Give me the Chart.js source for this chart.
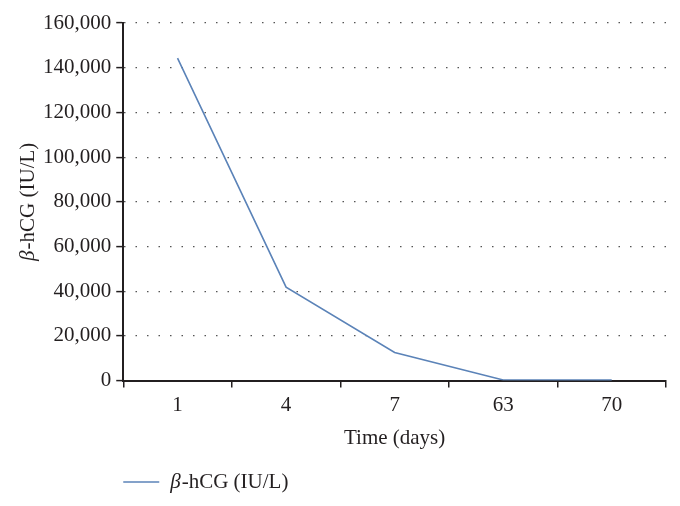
<!DOCTYPE html>
<html>
<head>
<meta charset="utf-8">
<script src="https://cdn.jsdelivr.net/npm/chart.js@4"></script>
<style>
  html, body { margin: 0; padding: 0; background: #fff; }
  #wrap { width: 680px; height: 506px; }
</style>
</head>
<body>
<div id="wrap"><canvas id="linechart"></canvas></div>
<script>
const days = ['1', '4', '7', '63', '70'];
const hcg = [144300, 41800, 12600, 300, 200];
const yTicks = [0, 20000, 40000, 60000, 80000, 100000, 120000, 140000, 160000];
const seriesName = 'β-hCG (IU/L)';

const serif = "'Liberation Serif', 'DejaVu Serif', serif";
const ink = '#231f20';
Chart.defaults.font.family = serif;
Chart.defaults.color = ink;

// draws "β" in italic followed by the rest in upright text
function mixedText(c, text, x, y, size) {
  const first = text.charAt(0), rest = text.slice(1);
  c.font = 'italic ' + size + 'px ' + serif;
  const w1 = c.measureText(first).width;
  c.fillText(first, x, y);
  c.font = size + 'px ' + serif;
  c.fillText(rest, x + w1 + 1, y);
  return w1 + 1 + c.measureText(rest).width;
}

function textWidth(c, text, size) {
  c.font = 'italic ' + size + 'px ' + serif;
  const w1 = c.measureText(text.charAt(0)).width;
  c.font = size + 'px ' + serif;
  return w1 + 1 + c.measureText(text.slice(1)).width;
}

const labelsPlugin = {
  id: 'labelsPlugin',
  afterDraw(chart) {
    const c = chart.ctx;
    const area = chart.chartArea;
    const ds = chart.data.datasets[0];
    c.save();
    c.fillStyle = ink;
    c.textBaseline = 'middle';

    // y axis title
    const size = 21;
    const w = textWidth(c, ds.label, size);
    c.save();
    c.translate(28, (area.top + area.bottom) / 2);
    c.rotate(-Math.PI / 2);
    mixedText(c, ds.label, -w / 2, 0, size);
    c.restore();

    // legend
    const ly = 482;
    c.strokeStyle = ds.borderColor;
    c.lineWidth = ds.borderWidth;
    c.beginPath();
    c.moveTo(area.left, ly);
    c.lineTo(area.left + 36, ly);
    c.stroke();
    mixedText(c, ds.label, area.left + 47, ly, size);
    c.restore();
  }
};

const ctx = document.getElementById('linechart');

new Chart(ctx, {
  type: 'line',
  data: {
    labels: days,
    datasets: [{
      label: seriesName,
      data: hcg,
      borderColor: '#5b83b8',
      backgroundColor: '#5b83b8',
      borderWidth: 1.6,
      pointRadius: 0,
      tension: 0
    }]
  },
  options: {
    responsive: true,
    maintainAspectRatio: false,
    animation: false,
    layout: { padding: { top: 23, right: 14, left: 38, bottom: 51 } },
    plugins: {
      legend: { display: false },
      tooltip: { enabled: false }
    },
    scales: {
      x: {
        offset: true,
        grid: {
          offset: true,
          drawOnChartArea: false,
          tickLength: 7,
          color: ink,
          lineWidth: 1.5
        },
        border: { color: ink, width: 2 },
        ticks: { font: { size: 21 }, padding: 5 },
        title: {
          display: true,
          text: 'Time (days)',
          font: { size: 21 },
          padding: { top: 3 }
        }
      },
      y: {
        min: 0,
        max: 160000,
        afterBuildTicks: (axis) => { axis.ticks = yTicks.map(v => ({ value: v })); },
        grid: {
          color: '#555',
          lineWidth: 1.2,
          tickLength: 7,
          tickColor: ink,
          tickBorderDash: [],
          tickWidth: 1.5
        },
        border: { color: ink, width: 2, dash: [1.5, 10] },
        ticks: {
          font: { size: 21 },
          padding: 5,
          callback: (v) => v.toLocaleString('en-US')
        }
      }
    }
  },
  plugins: [labelsPlugin]
});
</script>
</body>
</html>
